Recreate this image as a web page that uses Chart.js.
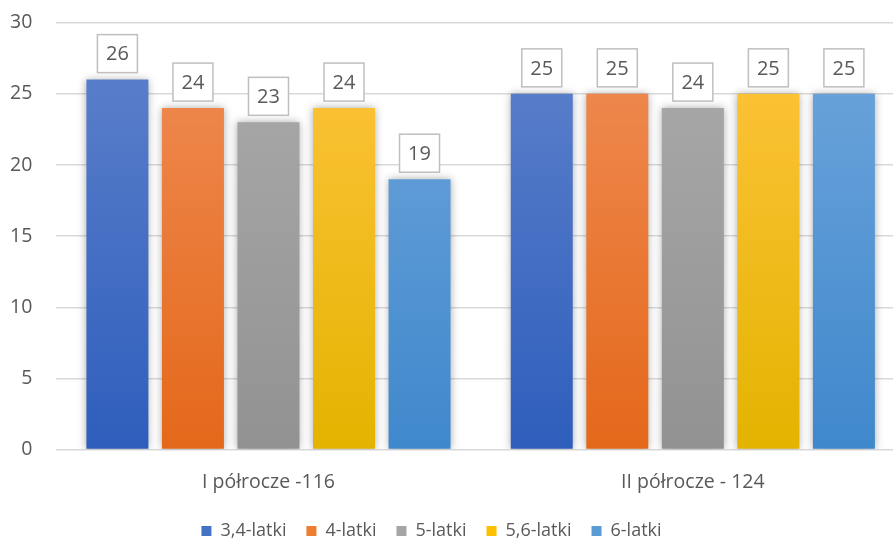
<!DOCTYPE html>
<html>
<head>
<meta charset="utf-8">
<script src="https://cdn.jsdelivr.net/npm/chart.js@4"></script>
<style>
html,body{margin:0;padding:0;background:#fff;overflow:hidden;}
#wrap{width:893px;height:543px;position:relative;}
</style>
</head>
<body>
<div id="wrap"><canvas id="c"></canvas></div>
<script>
const categories = ['I półrocze -116', 'II półrocze - 124'];
const seriesNames = ['3,4-latki', '4-latki', '5-latki', '5,6-latki', '6-latki'];
const s34 = [26, 25];
const s4 = [24, 25];
const s5 = [23, 24];
const s56 = [24, 25];
const s6 = [19, 25];
const yTicks = [0, 5, 10, 15, 20, 25, 30];

const seriesValues = [s34, s4, s5, s56, s6];
const gradTop = ['#5F82CC', '#F08D56', '#ABABAB', '#FFC53F', '#70A6DC'];
const gradBot = ['#2E5EBC', '#E4681A', '#929292', '#E4B300', '#3F88CC'];
const legendCol = ['#4472C4', '#ED7D31', '#A5A5A5', '#FFC000', '#5B9BD5'];

const FONT = "'Open Sans', 'Noto Sans', sans-serif";
const TXT = '#595959';

function gradFor(i) {
  return function(ctx) {
    const chart = ctx.chart;
    const a = chart.chartArea;
    if (!a) return legendCol[i];
    const g = chart.ctx.createLinearGradient(0, a.top, 0, a.bottom);
    g.addColorStop(0, gradTop[i]);
    g.addColorStop(1, gradBot[i]);
    return g;
  };
}

const datasets = seriesNames.map((n, i) => ({
  label: n,
  data: seriesValues[i].map((v, j) => ({x: j, y: v})),
  backgroundColor: gradFor(i),
  borderWidth: 0,
  categoryPercentage: 0.89,
  barPercentage: 0.821
}));

const shadowPlugin = {
  id: 'shadow',
  beforeDatasetsDraw(chart) {
    const c = chart.ctx;
    c.save();
    c.shadowColor = 'rgba(0,0,0,0.33)';
    c.shadowBlur = 8;
    c.shadowOffsetX = 0;
    c.shadowOffsetY = 0;
  },
  afterDatasetsDraw(chart) {
    chart.ctx.restore();
  }
};

const legendShift = {
  id: 'legendShift',
  afterLayout(chart) {
    const lg = chart.legend;
    if (lg) {
      lg.left -= 14.5;
      lg.right -= 14.5;
      lg.top -= 5;
      lg.bottom -= 5;
    }
  }
};

const labelPlugin = {
  id: 'boxlabels',
  afterDatasetsDraw(chart) {
    const c = chart.ctx;
    c.save();
    chart.data.datasets.forEach((ds, i) => {
      const meta = chart.getDatasetMeta(i);
      meta.data.forEach((bar, j) => {
        const v = seriesValues[i][j];
        const w = 40, h = 38;
        const x = bar.x - w / 2;
        const y = bar.y - 7 - h;
        c.fillStyle = '#ffffff';
        c.fillRect(x, y, w, h);
        c.strokeStyle = '#BFBFBF';
        c.lineWidth = 1.5;
        c.strokeRect(x, y, w, h);
        c.fillStyle = TXT;
        c.font = '20px ' + FONT;
        c.textAlign = 'center';
        c.textBaseline = 'middle';
        c.fillText(String(v), bar.x, y + h / 2 + 1);
      });
    });
    c.restore();
  }
};

new Chart(document.getElementById('c'), {
  type: 'bar',
  data: { datasets },
  options: {
    responsive: true,
    maintainAspectRatio: false,
    animation: false,
    layout: { padding: { left: -1, right: 0, top: 0, bottom: -12 } },
    scales: {
      x: {
        type: 'linear',
        min: -0.5,
        max: 1.4717,
        offset: false,
        grid: { display: false },
        border: { display: false },
        afterBuildTicks(scale) {
          scale.ticks = categories.map((c, i) => ({ value: i }));
        },
        ticks: {
          color: TXT,
          font: { family: FONT, size: 19.5 },
          padding: 13,
          autoSkip: false,
          maxRotation: 0,
          callback: (v) => categories[v]
        }
      },
      y: {
        min: 0,
        max: 30,
        afterBuildTicks(scale) {
          scale.ticks = yTicks.map(v => ({ value: v }));
        },
        grid: { color: '#D9D9D9', lineWidth: 1.5, drawTicks: true, tickLength: 13, tickColor: 'rgba(0,0,0,0)' },
        border: { display: false },
        ticks: {
          color: TXT,
          font: { family: FONT, size: 19.5 },
          padding: 11
        }
      }
    },
    plugins: {
      tooltip: { enabled: false },
      legend: {
        position: 'bottom',
        labels: {
          color: TXT,
          font: { family: FONT, size: 18 },
          boxWidth: 10,
          boxHeight: 10,
          padding: 20,
          generateLabels(chart) {
            return seriesNames.map((n, i) => ({
              text: n,
              fillStyle: legendCol[i],
              strokeStyle: legendCol[i],
              lineWidth: 0,
              hidden: false,
              datasetIndex: i,
              fontColor: TXT
            }));
          }
        }
      }
    }
  },
  plugins: [shadowPlugin, labelPlugin, legendShift]
});
</script>
</body>
</html>
